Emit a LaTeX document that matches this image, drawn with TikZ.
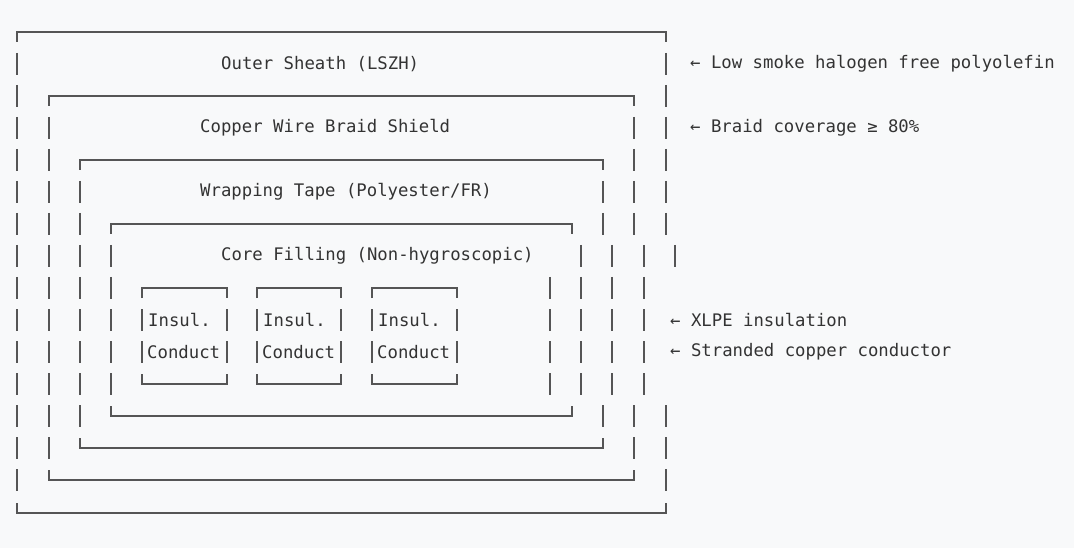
\documentclass[tikz,border=0pt]{standalone}
\usepackage{fontspec}
\setmonofont{DejaVu Sans Mono}
\definecolor{bgpaper}{HTML}{F8F9FA}
\definecolor{inkgray}{HTML}{333333}
\definecolor{rulegray}{HTML}{555555}

\begin{document}
\begin{tikzpicture}[x=1pt,y=-1pt,
	rule/.style={rulegray,line width=1.3pt},
	lbl/.style={inkgray,anchor=west,inner sep=0pt,font=\ttfamily\fontsize{17.3}{20}\selectfont}]
	\fill[bgpaper] (0,0) rectangle (1074,548);
	\useasboundingbox (0,0) rectangle (1074,548);

	% box outlines: left, right, top row, bottom row
	\foreach \l/\r/\t/\b in {17/666/32/513, 49/634/96/480, 80/603/160/448, 111/572/224/416,
	                         142/227/288/384, 257/341/288/384, 372/457/288/384}{
		\draw[rule] (\l,\t+10) -- (\l,\t) -- (\r,\t) -- (\r,\t+10);
		\draw[rule] (\l,\b-10) -- (\l,\b) -- (\r,\b) -- (\r,\b-10);
	}

	% left bars
	\foreach \x/\from/\to in {17/64/480, 49/128/448, 80/192/416, 111/256/384}
		\foreach \y in {\from,...,\to}
			\ifnum\numexpr(\y-\from)/32*32=\numexpr\y-\from\relax\fi;
	\foreach \x/\from/\to in {17/64/480, 49/128/448, 80/192/416, 111/256/384}{
		\pgfmathtruncatemacro{\n}{(\to-\from)/32}
		\foreach \k in {0,...,\n}
			\draw[rule] (\x,\from+32*\k-11) -- (\x,\from+32*\k+11);
	}

	% right bars, row by row
	\foreach \y/\xs in {64/{666}, 96/{666}, 128/{634,666}, 160/{634,666},
	                    192/{603,634,666}, 224/{603,634,666}, 256/{581,612,644,675},
	                    288/{550,581,612,644}, 320/{550,581,612,644}, 352/{550,581,612,644},
	                    384/{550,581,612,644}, 416/{603,634,666}, 448/{634,666}, 480/{666}}
		\foreach \x in \xs
			\draw[rule] (\x,\y-11) -- (\x,\y+11);

	% conductor sides
	\foreach \y in {320,352}
		\foreach \x in {142,227,257,341,372,457}
			\draw[rule] (\x,\y-11) -- (\x,\y+11);

	% layer names
	\node (sheath) [lbl] at (221,64) {Outer Sheath (LSZH)};
	\node (braid) [lbl] at (200,128) {Copper Wire Braid Shield};
	\node (tape) [lbl] at (200,192) {Wrapping Tape (Polyester/FR)};
	\node (filling) [lbl] at (221,256) {Core Filling (Non-hygroscopic)};
	\foreach \x [count=\i] in {148,263,378}{
		\node (insul\i) [lbl] at (\x,320) {Insul.};
		\node (cond\i) [lbl] at (\x-1,352) {Conduct};
	}

	% notes
	\node (notesheath) [lbl] at (690,64) {← Low smoke halogen free polyolefin};
	\node (notebraid) [lbl] at (690,128) {← Braid coverage ≥ 80\%};
	\node (noteinsul) [lbl] at (670,320) {← XLPE insulation};
	\node (notecond) [lbl] at (670,352) {← Stranded copper conductor};
\end{tikzpicture}
\end{document}
